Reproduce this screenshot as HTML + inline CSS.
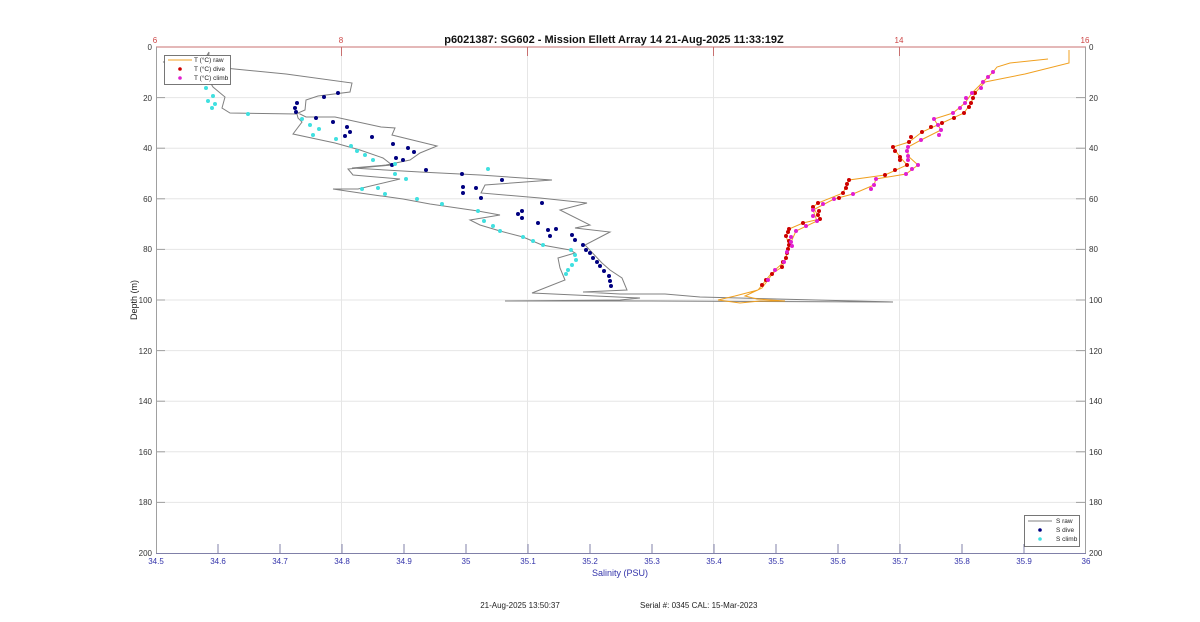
<!DOCTYPE html>
<html><head><meta charset="utf-8"><style>
body{margin:0;background:#fff;}
svg{display:block;font-family:"Liberation Sans",sans-serif;}
</style></head><body>
<svg width="1200" height="622" viewBox="0 0 1200 622" xmlns="http://www.w3.org/2000/svg">
<rect width="1200" height="622" fill="#fff"/>
<!-- grid -->
<g stroke="#e6e6e6" stroke-width="1">
<line x1="341.5" y1="47" x2="341.5" y2="553"/><line x1="527.5" y1="47" x2="527.5" y2="553"/>
<line x1="713.5" y1="47" x2="713.5" y2="553"/><line x1="899.5" y1="47" x2="899.5" y2="553"/>
<line x1="156" y1="97.6" x2="1085" y2="97.6"/><line x1="156" y1="148.2" x2="1085" y2="148.2"/>
<line x1="156" y1="198.8" x2="1085" y2="198.8"/><line x1="156" y1="249.4" x2="1085" y2="249.4"/>
<line x1="156" y1="300" x2="1085" y2="300"/><line x1="156" y1="350.6" x2="1085" y2="350.6"/>
<line x1="156" y1="401.2" x2="1085" y2="401.2"/><line x1="156" y1="451.8" x2="1085" y2="451.8"/>
<line x1="156" y1="502.4" x2="1085" y2="502.4"/>
</g>
<!-- axes -->
<line x1="156" y1="553.5" x2="1086" y2="553.5" stroke="#8080a8"/>
<line x1="156" y1="47" x2="1086" y2="47" stroke="#c87070"/>
<line x1="156.5" y1="47" x2="156.5" y2="553" stroke="#a0a0a0"/>
<line x1="1085.5" y1="47" x2="1085.5" y2="553" stroke="#a0a0a0"/>
<g stroke="#8080a8">
<line x1="218" y1="553" x2="218" y2="544"/><line x1="280" y1="553" x2="280" y2="544"/><line x1="342" y1="553" x2="342" y2="544"/><line x1="404" y1="553" x2="404" y2="544"/><line x1="466" y1="553" x2="466" y2="544"/><line x1="528" y1="553" x2="528" y2="544"/><line x1="590" y1="553" x2="590" y2="544"/><line x1="652" y1="553" x2="652" y2="544"/><line x1="714" y1="553" x2="714" y2="544"/><line x1="776" y1="553" x2="776" y2="544"/><line x1="838" y1="553" x2="838" y2="544"/><line x1="900" y1="553" x2="900" y2="544"/><line x1="962" y1="553" x2="962" y2="544"/><line x1="1024" y1="553" x2="1024" y2="544"/>
</g>
<g stroke="#c87070"><line x1="341.5" y1="47" x2="341.5" y2="56"/><line x1="527.5" y1="47" x2="527.5" y2="56"/><line x1="713.5" y1="47" x2="713.5" y2="56"/><line x1="899.5" y1="47" x2="899.5" y2="56"/></g>
<g stroke="#a0a0a0">
<line x1="156" y1="97.6" x2="165" y2="97.6"/><line x1="156" y1="148.2" x2="165" y2="148.2"/><line x1="156" y1="198.8" x2="165" y2="198.8"/><line x1="156" y1="249.4" x2="165" y2="249.4"/><line x1="156" y1="300" x2="165" y2="300"/><line x1="156" y1="350.6" x2="165" y2="350.6"/><line x1="156" y1="401.2" x2="165" y2="401.2"/><line x1="156" y1="451.8" x2="165" y2="451.8"/><line x1="156" y1="502.4" x2="165" y2="502.4"/>
<line x1="1076" y1="97.6" x2="1085" y2="97.6"/><line x1="1076" y1="148.2" x2="1085" y2="148.2"/><line x1="1076" y1="198.8" x2="1085" y2="198.8"/><line x1="1076" y1="249.4" x2="1085" y2="249.4"/><line x1="1076" y1="300" x2="1085" y2="300"/><line x1="1076" y1="350.6" x2="1085" y2="350.6"/><line x1="1076" y1="401.2" x2="1085" y2="401.2"/><line x1="1076" y1="451.8" x2="1085" y2="451.8"/><line x1="1076" y1="502.4" x2="1085" y2="502.4"/>
</g>
<!-- labels -->
<g font-size="8" fill="#333" text-anchor="end">
<text x="152" y="50">0</text><text x="152" y="101">20</text><text x="152" y="151">40</text><text x="152" y="202">60</text><text x="152" y="252">80</text><text x="152" y="303">100</text><text x="152" y="354">120</text><text x="152" y="404">140</text><text x="152" y="455">160</text><text x="152" y="505">180</text><text x="152" y="556">200</text>
</g>
<g font-size="8" fill="#333" text-anchor="start">
<text x="1089" y="50">0</text><text x="1089" y="101">20</text><text x="1089" y="151">40</text><text x="1089" y="202">60</text><text x="1089" y="252">80</text><text x="1089" y="303">100</text><text x="1089" y="354">120</text><text x="1089" y="404">140</text><text x="1089" y="455">160</text><text x="1089" y="505">180</text><text x="1089" y="556">200</text>
</g>
<g font-size="8" fill="#3333aa" text-anchor="middle">
<text x="156" y="564">34.5</text><text x="218" y="564">34.6</text><text x="280" y="564">34.7</text><text x="342" y="564">34.8</text><text x="404" y="564">34.9</text><text x="466" y="564">35</text><text x="528" y="564">35.1</text><text x="590" y="564">35.2</text><text x="652" y="564">35.3</text><text x="714" y="564">35.4</text><text x="776" y="564">35.5</text><text x="838" y="564">35.6</text><text x="900" y="564">35.7</text><text x="962" y="564">35.8</text><text x="1024" y="564">35.9</text><text x="1086" y="564">36</text>
</g>
<g font-size="8" fill="#cc4444" text-anchor="middle">
<text x="155" y="43">6</text><text x="341" y="43">8</text><text x="899" y="43">14</text><text x="1085" y="43">16</text>
</g>
<text x="614" y="43" font-size="11" font-weight="bold" text-anchor="middle" fill="#111">p6021387: SG602 - Mission Ellett Array 14 21-Aug-2025 11:33:19Z</text>
<text x="620" y="576" font-size="9" fill="#3333aa" text-anchor="middle">Salinity (PSU)</text>
<text transform="translate(137,300) rotate(-90)" font-size="9" fill="#222" text-anchor="middle">Depth (m)</text>
<text x="520" y="608" font-size="8" fill="#222" text-anchor="middle">21-Aug-2025 13:50:37</text>
<text x="640" y="608" font-size="8" fill="#222">Serial #: 0345  CAL: 15-Mar-2023</text>

<!-- S raw -->
<polyline fill="none" stroke="#808080" stroke-width="1" points="209,52 206,57 163,62 286,74 352,83 350,92 318,96 306,100 305,110 298,113 306,117 335,117 381,127 395,128 392,135 437,146 420,153 410,160 386,165 352,168 420,172 480,175 552,180 485,185 481,193 540,198 587,203 560,210 590,225 575,228 610,232 585,245 602,263 610,270 622,278 627,290 583,292 620,294 665,294 700,297 893,302 650,301 505,301 620,300 640,298 532,293 565,280 560,268 558,258 575,253 570,250 542,245 523,237 500,231 480,225 470,220 500,215 478,211 430,204 403,199 360,193 333,189 358,189 400,179 353,175 348,169 392,165 383,158 360,150 335,143 293,134 302,122 298,118 297,114 230,113 222,108 225,97 213,87 207,77 209,52"/>
<!-- T raw -->
<polyline fill="none" stroke="#f0a020" stroke-width="1" points="1069,50 1069,63 1025,74 985,82 975,93 971,103 964,113 942,123 922,132 909,142 893,147 900,157 907,165 885,175 849,180 843,193 818,203 813,207 820,219 803,223 789,229 786,236 789,245 786,258 782,267 770,275 762,285 758,290 735,296 718,300 740,303 760,301 785,301 757,299 745,296 762,288 768,280 775,270 784,262 791,242 796,231 817,221 813,210 834,199 853,194 874,185 876,179 906,174 918,165 908,156 908,147 921,140 941,130 934,119 953,113 965,103 972,93 983,82 993,72 997,67 1010,63 1048,59"/>
<g fill="#000080">
<circle cx="338" cy="93" r="2"/><circle cx="324" cy="97" r="2"/><circle cx="297" cy="103" r="2"/><circle cx="295" cy="108" r="2"/><circle cx="296" cy="112" r="2"/><circle cx="316" cy="118" r="2"/><circle cx="333" cy="122" r="2"/><circle cx="347" cy="127" r="2"/><circle cx="350" cy="132" r="2"/><circle cx="345" cy="136" r="2"/><circle cx="372" cy="137" r="2"/><circle cx="393" cy="144" r="2"/><circle cx="408" cy="148" r="2"/><circle cx="414" cy="152" r="2"/><circle cx="396" cy="158" r="2"/><circle cx="403" cy="160" r="2"/><circle cx="392" cy="165" r="2"/><circle cx="426" cy="170" r="2"/><circle cx="462" cy="174" r="2"/><circle cx="463" cy="187" r="2"/><circle cx="476" cy="188" r="2"/><circle cx="502" cy="180" r="2"/><circle cx="463" cy="193" r="2"/><circle cx="481" cy="198" r="2"/><circle cx="522" cy="211" r="2"/><circle cx="518" cy="214" r="2"/><circle cx="522" cy="218" r="2"/><circle cx="538" cy="223" r="2"/><circle cx="548" cy="230" r="2"/><circle cx="556" cy="229" r="2"/><circle cx="550" cy="236" r="2"/><circle cx="542" cy="203" r="2"/><circle cx="572" cy="235" r="2"/><circle cx="575" cy="240" r="2"/><circle cx="583" cy="245" r="2"/><circle cx="586" cy="250" r="2"/><circle cx="590" cy="253" r="2"/><circle cx="593" cy="258" r="2"/><circle cx="597" cy="262" r="2"/><circle cx="600" cy="266" r="2"/><circle cx="604" cy="271" r="2"/><circle cx="609" cy="276" r="2"/><circle cx="610" cy="281" r="2"/><circle cx="611" cy="286" r="2"/>
</g>
<g fill="#40e0e0">
<circle cx="205" cy="73" r="2"/><circle cx="209" cy="77" r="2"/><circle cx="208" cy="82" r="2"/><circle cx="206" cy="88" r="2"/><circle cx="213" cy="96" r="2"/><circle cx="208" cy="101" r="2"/><circle cx="215" cy="104" r="2"/><circle cx="212" cy="108" r="2"/><circle cx="248" cy="114" r="2"/><circle cx="302" cy="119" r="2"/><circle cx="310" cy="125" r="2"/><circle cx="319" cy="129" r="2"/><circle cx="313" cy="135" r="2"/><circle cx="336" cy="139" r="2"/><circle cx="351" cy="146" r="2"/><circle cx="357" cy="151" r="2"/><circle cx="365" cy="155" r="2"/><circle cx="373" cy="160" r="2"/><circle cx="395" cy="164" r="2"/><circle cx="395" cy="174" r="2"/><circle cx="406" cy="179" r="2"/><circle cx="378" cy="188" r="2"/><circle cx="362" cy="189" r="2"/><circle cx="385" cy="194" r="2"/><circle cx="417" cy="199" r="2"/><circle cx="442" cy="204" r="2"/><circle cx="478" cy="211" r="2"/><circle cx="484" cy="221" r="2"/><circle cx="493" cy="226" r="2"/><circle cx="500" cy="231" r="2"/><circle cx="523" cy="237" r="2"/><circle cx="533" cy="241" r="2"/><circle cx="543" cy="245" r="2"/><circle cx="571" cy="250" r="2"/><circle cx="575" cy="255" r="2"/><circle cx="576" cy="260" r="2"/><circle cx="572" cy="265" r="2"/><circle cx="568" cy="270" r="2"/><circle cx="566" cy="274" r="2"/><circle cx="488" cy="169" r="2"/>
</g>
<g fill="#cc0000">
<circle cx="975" cy="93" r="2"/><circle cx="973" cy="98" r="2"/><circle cx="971" cy="103" r="2"/><circle cx="969" cy="107" r="2"/><circle cx="964" cy="113" r="2"/><circle cx="954" cy="118" r="2"/><circle cx="942" cy="123" r="2"/><circle cx="931" cy="127" r="2"/><circle cx="922" cy="132" r="2"/><circle cx="911" cy="137" r="2"/><circle cx="909" cy="142" r="2"/><circle cx="893" cy="147" r="2"/><circle cx="895" cy="151" r="2"/><circle cx="900" cy="157" r="2"/><circle cx="900" cy="160" r="2"/><circle cx="907" cy="165" r="2"/><circle cx="895" cy="170" r="2"/><circle cx="885" cy="175" r="2"/><circle cx="849" cy="180" r="2"/><circle cx="847" cy="184" r="2"/><circle cx="846" cy="188" r="2"/><circle cx="843" cy="193" r="2"/><circle cx="839" cy="198" r="2"/><circle cx="818" cy="203" r="2"/><circle cx="813" cy="207" r="2"/><circle cx="819" cy="211" r="2"/><circle cx="818" cy="215" r="2"/><circle cx="820" cy="219" r="2"/><circle cx="803" cy="223" r="2"/><circle cx="789" cy="229" r="2"/><circle cx="788" cy="232" r="2"/><circle cx="786" cy="236" r="2"/><circle cx="789" cy="241" r="2"/><circle cx="789" cy="245" r="2"/><circle cx="788" cy="249" r="2"/><circle cx="787" cy="253" r="2"/><circle cx="786" cy="258" r="2"/><circle cx="783" cy="262" r="2"/><circle cx="782" cy="267" r="2"/><circle cx="772" cy="274" r="2"/><circle cx="766" cy="280" r="2"/><circle cx="762" cy="285" r="2"/>
</g>
<g fill="#e020d0">
<circle cx="993" cy="72" r="2"/><circle cx="988" cy="77" r="2"/><circle cx="983" cy="82" r="2"/><circle cx="981" cy="88" r="2"/><circle cx="972" cy="93" r="2"/><circle cx="966" cy="98" r="2"/><circle cx="965" cy="103" r="2"/><circle cx="960" cy="108" r="2"/><circle cx="953" cy="113" r="2"/><circle cx="934" cy="119" r="2"/><circle cx="938" cy="125" r="2"/><circle cx="941" cy="130" r="2"/><circle cx="939" cy="135" r="2"/><circle cx="921" cy="140" r="2"/><circle cx="908" cy="147" r="2"/><circle cx="907" cy="151" r="2"/><circle cx="908" cy="156" r="2"/><circle cx="908" cy="160" r="2"/><circle cx="918" cy="165" r="2"/><circle cx="912" cy="169" r="2"/><circle cx="906" cy="174" r="2"/><circle cx="876" cy="179" r="2"/><circle cx="874" cy="185" r="2"/><circle cx="871" cy="189" r="2"/><circle cx="853" cy="194" r="2"/><circle cx="834" cy="199" r="2"/><circle cx="823" cy="204" r="2"/><circle cx="813" cy="210" r="2"/><circle cx="813" cy="216" r="2"/><circle cx="817" cy="221" r="2"/><circle cx="806" cy="226" r="2"/><circle cx="796" cy="231" r="2"/><circle cx="791" cy="237" r="2"/><circle cx="791" cy="242" r="2"/><circle cx="792" cy="246" r="2"/><circle cx="787" cy="252" r="2"/><circle cx="784" cy="262" r="2"/><circle cx="775" cy="270" r="2"/><circle cx="768" cy="280" r="2"/>
</g>
<!-- legend top-left -->
<rect x="164.5" y="55.5" width="66" height="29" fill="#fff" stroke="#555" stroke-width="0.8"/>
<line x1="168" y1="60" x2="192" y2="60" stroke="#f0a020"/>
<circle cx="180" cy="69" r="1.8" fill="#cc0000"/><circle cx="180" cy="78" r="1.8" fill="#e020d0"/>
<g font-size="6.5" fill="#222"><text x="194" y="62">T (°C) raw</text><text x="194" y="71">T (°C) dive</text><text x="194" y="80">T (°C) climb</text></g>
<!-- legend bottom-right -->
<rect x="1024.5" y="515.5" width="55" height="31" fill="#fff" stroke="#555" stroke-width="0.8"/>
<line x1="1028" y1="521" x2="1052" y2="521" stroke="#808080"/>
<circle cx="1040" cy="530" r="1.8" fill="#000080"/><circle cx="1040" cy="539" r="1.8" fill="#40e0e0"/>
<g font-size="6.5" fill="#222"><text x="1056" y="523">S raw</text><text x="1056" y="532">S dive</text><text x="1056" y="541">S climb</text></g>
</svg>
</body></html>
